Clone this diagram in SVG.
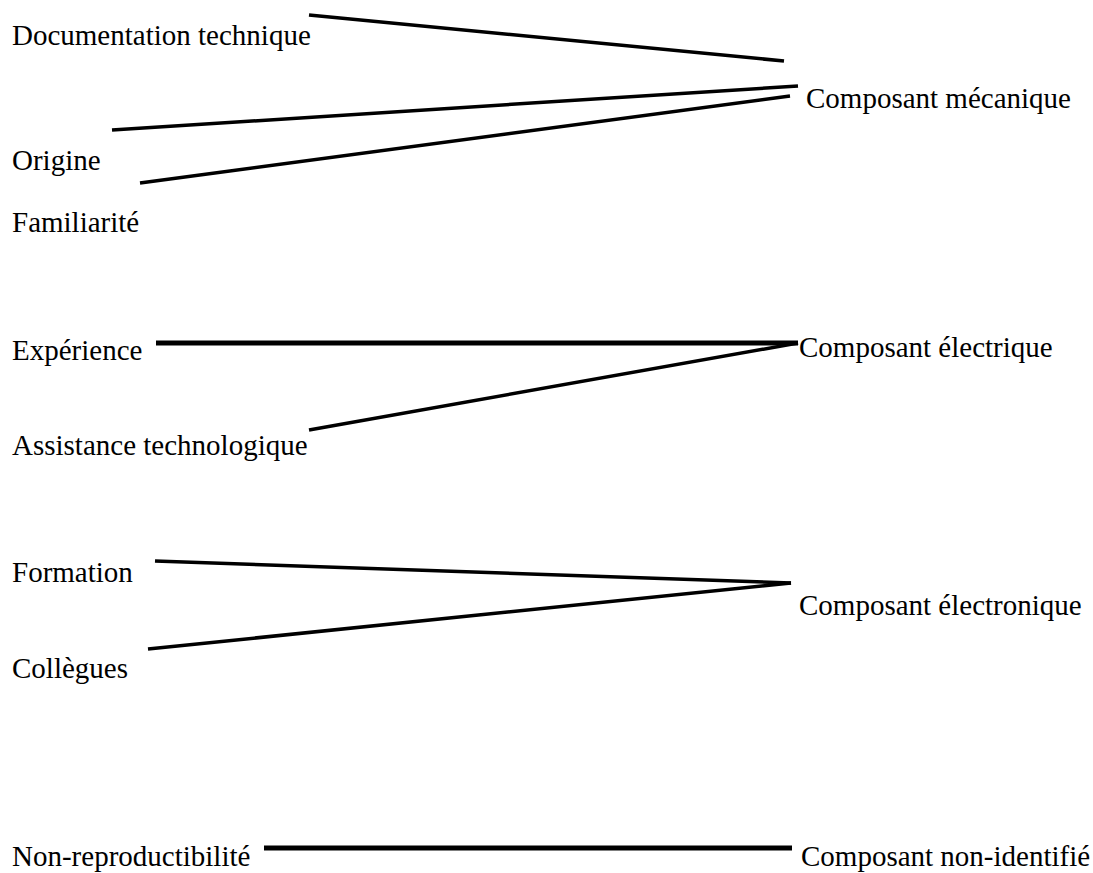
<svg xmlns="http://www.w3.org/2000/svg" width="1093" height="873" viewBox="0 0 1093 873">
<style>
text{font-family:"Liberation Serif","Times New Roman",serif;font-size:29px;fill:#000}
.c line{stroke:#000;stroke-linecap:butt}
.thin{stroke-width:3.5}
.thick{stroke-width:5}
</style>
<rect width="1093" height="873" fill="#fff"/>
<g class="c" id="connectors">
<line class="thin" x1="309" y1="15" x2="784" y2="61"/>
<line class="thin" x1="112" y1="130" x2="798" y2="86"/>
<line class="thin" x1="140" y1="183" x2="790" y2="96"/>
<line class="thick" x1="156" y1="343" x2="798" y2="343"/>
<line class="thin" x1="309" y1="430" x2="798" y2="343"/>
<line class="thin" x1="155" y1="561" x2="791" y2="583"/>
<line class="thin" x1="148" y1="649" x2="791" y2="583"/>
<line class="thick" x1="264" y1="848" x2="792" y2="848"/>
</g>
<g id="n-doc"><text x="12" y="45">Documentation technique</text></g>
<g id="n-origine"><text x="12" y="170">Origine</text></g>
<g id="n-fam"><text x="12" y="232">Familiarité</text></g>
<g id="n-exp"><text x="12" y="360">Expérience</text></g>
<g id="n-assist"><text x="12" y="455">Assistance technologique</text></g>
<g id="n-form"><text x="12" y="582">Formation</text></g>
<g id="n-coll"><text x="12" y="678">Collègues</text></g>
<g id="n-nonrep"><text x="12" y="866">Non-reproductibilité</text></g>
<g id="n-meca"><text x="806" y="108">Composant mécanique</text></g>
<g id="n-elec"><text x="799" y="357">Composant électrique</text></g>
<g id="n-elecn"><text x="799" y="615">Composant électronique</text></g>
<g id="n-nonid"><text x="801" y="866">Composant non-identifié</text></g>
</svg>
